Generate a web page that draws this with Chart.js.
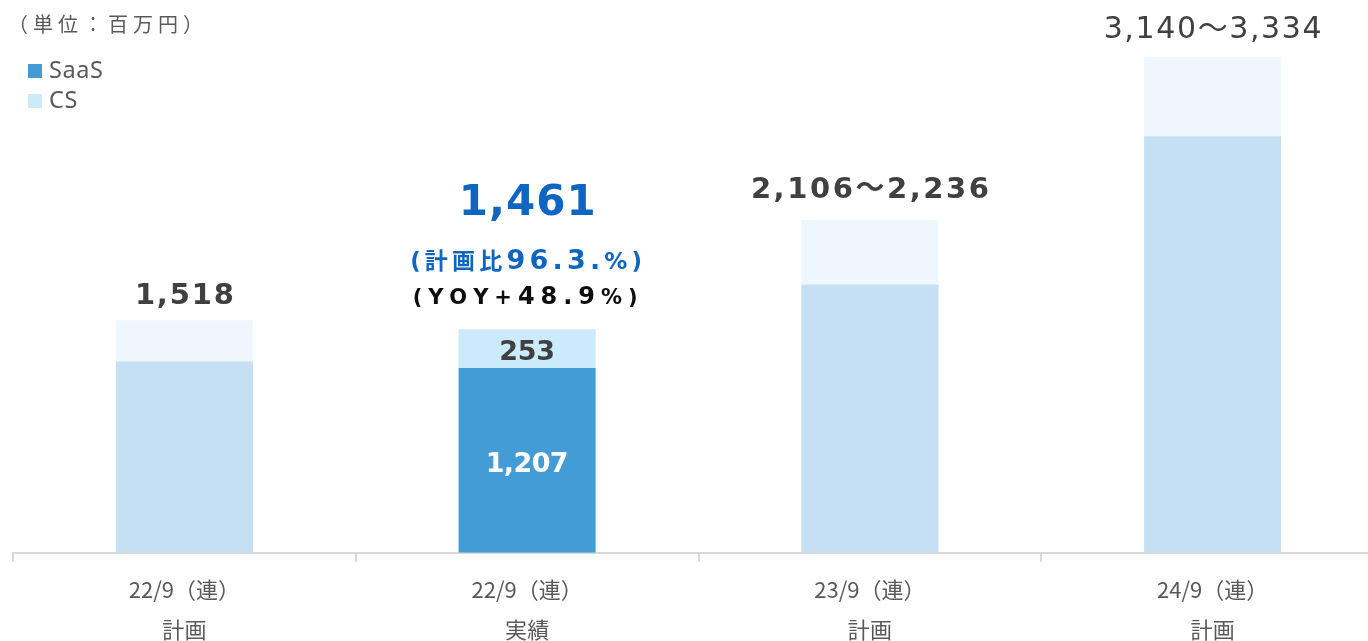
<!DOCTYPE html>
<html lang="ja">
<head>
<meta charset="utf-8">
<script src="https://cdn.jsdelivr.net/npm/chart.js@4.4.1/dist/chart.umd.min.js"></script>
<style>
  html, body { margin: 0; padding: 0; background: #fff; overflow: hidden; width: 1368px; height: 641px; }
  #wrap { position: absolute; left: 0; top: 0; width: 1384px; height: 657px; }
  #unit { position: absolute; left: 8px; top: 9px; font: 20px "Noto Sans CJK JP", "Noto Sans", sans-serif; color: #595959; letter-spacing: 5px; white-space: nowrap; z-index: 2; }
  .lg { position: absolute; left: 28px; font: 23.5px "Noto Sans", "Noto Sans CJK JP", sans-serif; color: #595959; white-space: nowrap; z-index: 2; line-height: 1; letter-spacing: 0.6px; }
  .lg i { display: inline-block; width: 14px; height: 14px; margin-right: 7px; vertical-align: 0px; }
</style>
</head>
<body>
<div id="wrap"><canvas id="c"></canvas></div>
<div id="unit">（単位：百万円）</div>
<div class="lg" style="top:58px"><i style="background:#439cd6"></i>SaaS</div>
<div class="lg" style="top:88px"><i style="background:#cbebfb"></i>CS</div>
<script>
// ---- data ----
const categories = [['22/9（連）', '計画'], ['22/9（連）', '実績'], ['23/9（連）', '計画'], ['24/9（連）', '計画']];
const saasValues = [1250, 1207, 1752, 2720];
const csValues = [268, 253, 419, 517];
const totalLabels = ['1,518', '1,461', '2,106～2,236', '3,140～3,334'];
const planRatioLabel = ['(', '計画比', '96.3.', '%', ')'];
const yoyLabel = ['(YOY+', '48.9', '%)'];
const seriesNames = ['SaaS', 'CS'];
const yMax = 3610;

// ---- styles ----
const planLower = '#c5e0f2', planUpper = '#eef7fe', saasColor = '#439cd6', csColor = '#cbebfb';
const actualIndex = 1;
const FAM = 'DejaVu Sans, Verdana, "Noto Sans CJK JP", sans-serif';

function drawRuns(ctx, runs, cx, baseline, targetW, color) {
  const chars = [];
  runs.forEach(r => {
    ctx.font = r.font;
    for (const ch of r.text) chars.push({ ch, font: r.font, w: ctx.measureText(ch).width });
  });
  const natural = chars.reduce((s, c) => s + c.w, 0);
  const gap = chars.length > 1 ? (targetW - natural) / (chars.length - 1) : 0;
  let x = cx - targetW / 2;
  ctx.fillStyle = color;
  ctx.textBaseline = 'alphabetic';
  ctx.textAlign = 'left';
  chars.forEach(c => { ctx.font = c.font; ctx.fillText(c.ch, x, baseline); x += c.w + gap; });
}

const labelPlugin = {
  id: 'labels',
  afterDatasetsDraw(chart) {
    const ctx = chart.ctx;
    const m0 = chart.getDatasetMeta(0).data;
    const m1 = chart.getDatasetMeta(1).data;
    ctx.save();
    const b = w => `bold ${w}px ${FAM}`;
    // totals above planned bars
    drawRuns(ctx, [{ text: totalLabels[0], font: b(29) }], m1[0].x, m1[0].y - 16, 99, '#404040');
    drawRuns(ctx, [{ text: totalLabels[2], font: b(29) }], m1[2].x, m1[2].y - 22, 238, '#404040');
    drawRuns(ctx, [{ text: totalLabels[3], font: `normal 30px ${FAM}` }], m1[3].x, m1[3].y - 19, 218, '#404040');
    // actual bar
    const a = m1[actualIndex];
    drawRuns(ctx, [{ text: totalLabels[1], font: b(42) }], a.x, a.y - 114, 137, '#0e66c2');
    drawRuns(ctx, [
      { text: planRatioLabel[0], font: b(23) },
      { text: planRatioLabel[1], font: b(23) },
      { text: planRatioLabel[2], font: b(27) },
      { text: planRatioLabel[3], font: b(23) },
      { text: planRatioLabel[4], font: b(23) }
    ], a.x - 1, a.y - 60, 232, '#0e66c2');
    drawRuns(ctx, [
      { text: yoyLabel[0], font: b(21) },
      { text: yoyLabel[1], font: b(24) },
      { text: yoyLabel[2], font: b(21) }
    ], a.x - 2, a.y - 25, 225, '#0d0d0d');
    // inside values
    const csMid = (a.y + a.base) / 2;
    drawRuns(ctx, [{ text: String(csValues[actualIndex]), font: b(27) }], a.x, csMid + 11, 56, '#404040');
    const s = m0[actualIndex];
    const sMid = (s.y + s.base) / 2;
    drawRuns(ctx, [{ text: saasValues[actualIndex].toLocaleString('en-US'), font: b(27) }], s.x, sMid + 12, 83, '#ffffff');
    ctx.restore();
  }
};

new Chart(document.getElementById('c'), {
  type: 'bar',
  data: {
    labels: categories,
    datasets: [
      { label: seriesNames[0], data: saasValues, backgroundColor: categories.map((_, i) => i === actualIndex ? saasColor : planLower), borderWidth: 0 },
      { label: seriesNames[1], data: csValues, backgroundColor: categories.map((_, i) => i === actualIndex ? csColor : planUpper), borderWidth: 0 }
    ]
  },
  options: {
    responsive: true,
    maintainAspectRatio: false,
    animation: false,
    layout: { padding: { left: 13, right: 0, top: 0, bottom: 0 } },
    datasets: { bar: { categoryPercentage: 1, barPercentage: 0.4 } },
    plugins: { legend: { display: false }, tooltip: { enabled: false }, title: { display: false } },
    scales: {
      x: {
        stacked: true,
        grid: { display: true, drawOnChartArea: false, drawTicks: true, tickLength: 9, color: '#d9d9d9', lineWidth: 2, offset: true },
        border: { display: true, color: '#d9d9d9', width: 2 },
        ticks: { color: '#595959', padding: 8, maxRotation: 0, autoSkip: false, font: { family: '"Noto Sans CJK JP", sans-serif', size: 22, lineHeight: 1.8 } }
      },
      y: { stacked: true, display: false, min: 0, max: yMax }
    }
  },
  plugins: [labelPlugin]
});
</script>
</body>
</html>
